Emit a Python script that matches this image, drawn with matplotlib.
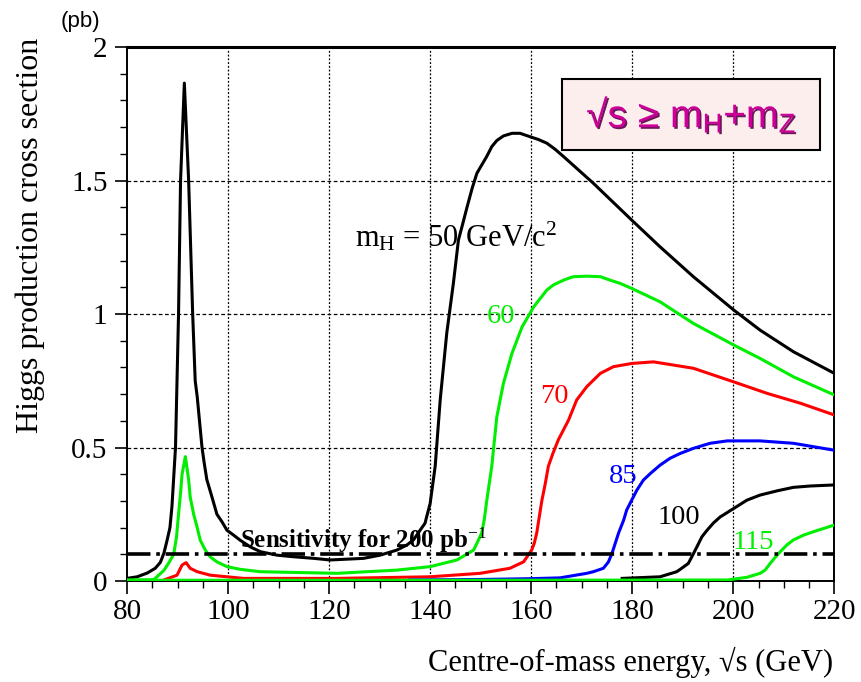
import matplotlib
matplotlib.use("Agg")
import matplotlib.pyplot as plt
import matplotlib.patheffects as pe
from matplotlib.patches import Rectangle
from matplotlib.ticker import MultipleLocator, FixedLocator

plt.rcParams["font.family"] = ["Liberation Serif", "DejaVu Serif"]
plt.rcParams["mathtext.fontset"] = "custom"
plt.rcParams["mathtext.rm"] = "Liberation Serif"
plt.rcParams["mathtext.it"] = "Liberation Serif:italic"
plt.rcParams["mathtext.sf"] = "Liberation Sans"

# cross sections (pb) versus sqrt(s) (GeV), one curve per Higgs mass
x_50 = [80, 82, 84, 85.6, 86.6, 87.3, 87.9, 88.5, 88.9, 89.6, 89.9, 90.2,
        90.6, 91.35, 92.2, 93.0, 93.5, 93.9, 94.85, 95.3, 95.8, 96.8, 97.8,
        98.8, 99.8, 101.1, 102.4, 104.4, 106.4, 109.7, 113, 117, 120.2,
        126.8, 130.1, 133.4, 135.4, 136.7, 138, 139, 139.3, 140, 141, 142,
        143.3, 144.6, 145.6, 146.3, 147.3, 148.3, 149.25, 150.2, 151.2,
        152.2, 153.2, 154.5, 156.2, 157.8, 159.8, 161.4, 163.1, 164.75,
        166.4, 172.3, 179.9, 185.5, 192.1, 200.1, 205.3, 211.9, 220]
y_50 = [0.01, 0.016, 0.03, 0.048, 0.07, 0.104, 0.15, 0.2, 0.28, 0.50, 0.75,
        1.0, 1.5, 1.865, 1.5, 1.0, 0.75, 0.69, 0.50, 0.44, 0.38, 0.316, 0.25,
        0.222, 0.19, 0.172, 0.153, 0.128, 0.11, 0.097, 0.091, 0.085, 0.079,
        0.085, 0.097, 0.116, 0.135, 0.154, 0.19, 0.217, 0.24, 0.29, 0.43,
        0.68, 0.93, 1.115, 1.277, 1.327, 1.40, 1.47, 1.527, 1.558, 1.59,
        1.627, 1.65, 1.667, 1.677, 1.677, 1.664, 1.654, 1.64, 1.617, 1.59,
        1.49, 1.352, 1.252, 1.14, 1.015, 0.94, 0.859, 0.778]

x_60 = [80, 85.3, 87.3, 88.2, 89.25, 89.8, 90.2, 90.6, 90.9, 91.55, 92.2,
        92.5, 93.2, 93.9, 94.5, 95.5, 96.5, 97.8, 99.8, 102.4, 106.4, 121.6,
        133.4, 140, 145.3, 148.6, 149.25, 150.2, 150.7, 151.2, 152.2, 153.2,
        154.5, 156.2, 158.2, 160.5, 163.1, 164.4, 166.4, 167.7, 168.4, 171,
        173.7, 175.6, 177.6, 179.9, 185.5, 192.1, 200.1, 205.3, 211.9, 220]
y_60 = [0.004, 0.005, 0.04, 0.066, 0.10, 0.166, 0.25, 0.33, 0.40, 0.466,
        0.38, 0.316, 0.25, 0.2, 0.153, 0.116, 0.09, 0.072, 0.054, 0.044,
        0.035, 0.029, 0.041, 0.054, 0.079, 0.116, 0.141, 0.18, 0.228, 0.30,
        0.43, 0.615, 0.74, 0.853, 0.952, 1.027, 1.09, 1.109, 1.127, 1.136,
        1.14, 1.142, 1.14, 1.127, 1.115, 1.096, 1.046, 0.965, 0.884, 0.834,
        0.765, 0.697]

x_70 = [87.3, 89.9, 90.9, 91.7, 92.5, 93.9, 96.5, 103.1, 121.6, 140, 149.9,
        155.8, 158.5, 160.1, 160.6, 161.1, 161.6, 162.1, 162.8, 163.4, 164.3,
        165.4, 167.4, 169, 171, 173.7, 176.3, 179.9, 184.2, 192.1, 200.1,
        206.7, 213.3, 220]
y_70 = [0.004, 0.022, 0.06, 0.069, 0.048, 0.035, 0.022, 0.01, 0.01, 0.016,
        0.029, 0.048, 0.072, 0.116, 0.141, 0.18, 0.24, 0.30, 0.366, 0.43,
        0.478, 0.53, 0.603, 0.678, 0.728, 0.778, 0.803, 0.815, 0.821, 0.797,
        0.746, 0.703, 0.666, 0.622]

x_85 = [136, 150, 160, 165.7, 171, 172.3, 174.3, 175.3, 176, 177.3, 178.3,
        178.9, 179.9, 180.9, 182.2, 183.6, 185.5, 187.5, 189.5, 192.1, 195.4,
        198.8, 205.3, 211.9, 220]
y_85 = [0.004, 0.006, 0.009, 0.012, 0.029, 0.035, 0.048, 0.072, 0.104, 0.18,
        0.228, 0.266, 0.303, 0.34, 0.378, 0.403, 0.434, 0.46, 0.478, 0.497,
        0.516, 0.525, 0.525, 0.516, 0.49]

x_100 = [178, 185.5, 188.8, 189.5, 191.1, 191.8, 192.8, 193.8, 194.8, 196.1,
         197.4, 200.1, 202.7, 205.3, 208.7, 211.9, 215.2, 220]
y_100 = [0.01, 0.016, 0.035, 0.044, 0.066, 0.091, 0.128, 0.166, 0.19, 0.218,
         0.24, 0.272, 0.303, 0.322, 0.338, 0.351, 0.356, 0.36]

x_115 = [80, 150, 198.8, 202.7, 205.3, 206.3, 207.3, 208.3, 209.3, 210.6,
         211.9, 213.9, 215.9, 217.9, 220]
y_115 = [0.003, 0.003, 0.004, 0.014, 0.029, 0.041, 0.066, 0.089, 0.11, 0.135,
         0.154, 0.172, 0.185, 0.197, 0.21]

sensitivity = 0.1

curves = [
    (x_50, y_50, "black"),
    (x_60, y_60, "#00ee00"),
    (x_70, y_70, "red"),
    (x_85, y_85, "blue"),
    (x_100, y_100, "black"),
    (x_115, y_115, "#00ee00"),
]

# mass labels: (text, x, y, colour)
mass_labels = [
    ("60", 151.2, 0.99, "#00ee00"),
    ("70", 161.8, 0.69, "red"),
    ("85", 175.3, 0.39, "blue"),
    ("100", 185.1, 0.237, "black"),
    ("115", 199.8, 0.143, "#00ee00"),
]

fig = plt.figure(figsize=(8.61, 6.82), dpi=100)
ax = fig.add_axes([0.1475, 0.148, 0.8215, 0.783])

ax.set_xlim(80, 220)
ax.set_ylim(0, 2)

for xs, ys, c in curves:
    ax.plot(xs, ys, color=c, lw=2.2, solid_joinstyle="round", zorder=3)

ax.axhline(sensitivity, color="black", lw=2.6,
           linestyle=(0, (6.5, 1.6, 1.0, 1.6)), zorder=4)

ax.text(102.4, 0.122, r"Sensitivity for 200 pb$^{-1}$", fontsize=18,
        fontweight="bold", ha="left", va="baseline", zorder=5)

ax.text(125.1, 1.252, r"m$_\mathrm{H}$ = 50 GeV/c$^\mathrm{2}$", fontsize=22,
        ha="left", va="baseline", zorder=5)

for txt, lx, ly, c in mass_labels:
    ax.text(lx, ly, txt, color=c, fontsize=20.5, ha="left", va="center",
            zorder=5)

# kinematic threshold box
ax.add_patch(Rectangle((166.1, 1.614), 51.1, 0.266, facecolor="#fdeeee",
                       edgecolor="black", lw=1.5, zorder=6))
ax.text(191.7, 1.745, r"√s ≥ m$_\mathsf{H}$+m$_\mathsf{Z}$",
        family=["Liberation Sans", "DejaVu Sans"], fontsize=28,
        color="#cc0099", ha="center", va="center", zorder=7,
        path_effects=[pe.withSimplePatchShadow(offset=(1.2, -1.2),
                                               shadow_rgbFace="#5a0045",
                                               alpha=0.9)])

# axes, ticks and grid
ax.xaxis.set_major_locator(MultipleLocator(20))
ax.xaxis.set_minor_locator(MultipleLocator(5))
ax.yaxis.set_major_locator(FixedLocator([0, 0.5, 1, 1.5, 2]))
ax.yaxis.set_minor_locator(MultipleLocator(0.1))
ax.set_yticklabels(["0", "0.5", "1", "1.5", "2"])

ax.tick_params(axis="both", which="major", direction="out", length=9,
               width=1.2, labelsize=21, pad=4)
ax.tick_params(axis="both", which="minor", direction="out", length=5,
               width=1.0)
ax.tick_params(axis="y", which="major", pad=5)

for v in [100, 120, 140, 160, 180, 200]:
    ax.axvline(v, color="black", lw=0.9, linestyle=(0, (1.5, 1.5)), zorder=1)
for v in [0.5, 1.0, 1.5]:
    ax.axhline(v, color="black", lw=0.9, linestyle=(0, (3, 2)), zorder=1)

for s in ax.spines.values():
    s.set_linewidth(1.4)
ax.spines["top"].set_linewidth(2.2)

fig.text(30 / 861, 1 - 235 / 682, "Higgs production cross section",
         rotation=90, fontsize=23, ha="center", va="center")
fig.text(833 / 861, 1 - 662 / 682, "Centre-of-mass energy, √s (GeV)",
         fontsize=22, ha="right", va="center")
fig.text(80 / 861, 1 - 22 / 682, "(pb)", family=["Liberation Sans"],
         fontsize=16, ha="center", va="center")

fig.savefig("out.png", dpi=100, facecolor="white")
